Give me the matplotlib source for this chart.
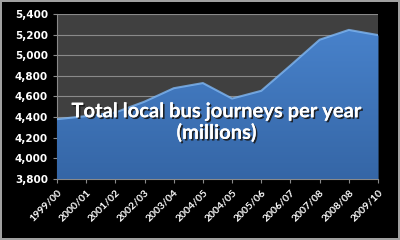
import matplotlib
matplotlib.use('Agg')
import matplotlib.pyplot as plt
import matplotlib.patheffects as pe
import numpy as np

matplotlib.rcParams['font.family'] = ['Lato', 'DejaVu Sans']

years = ['1999/00', '2000/01', '2001/02', '2002/03', '2003/04', '2004/05',
         '2004/05', '2005/06', '2006/07', '2007/08', '2008/08', '2009/10']
journeys = [4380, 4410, 4445, 4550, 4680, 4730, 4580, 4655, 4900, 5150, 5245, 5195]
y_ticks = [3800, 4000, 4200, 4400, 4600, 4800, 5000, 5200, 5400]
title = 'Total local bus journeys per year\n(millions)'

fig = plt.figure(figsize=(4, 2.4), dpi=100, facecolor='black',
                 edgecolor='#a0a0a0', linewidth=1.5)
ax = fig.add_axes([0.1425, 0.254, 0.8025, 0.688])
ax.set_facecolor('#404040')

x = np.arange(len(years))
ax.set_xlim(0, len(years) - 1)
ax.set_ylim(3800, 5400)

# area with vertical gradient, lighter toward the top
poly = ax.fill_between(x, 3800, journeys, color='#4378bd', zorder=2, lw=0)
grad = np.linspace(0, 1, 256).reshape(-1, 1)
cmap = matplotlib.colors.LinearSegmentedColormap.from_list('b', ['#3566a6', '#4a85cf'])
img = ax.imshow(grad, extent=[0, len(years) - 1, 3800, 5400], aspect='auto',
                cmap=cmap, zorder=3, origin='lower')
img.set_clip_path(poly.get_paths()[0], transform=ax.transData)
ax.plot(x, journeys, color='#7fb6f2', lw=1.5, zorder=4, alpha=0.8)

for t in y_ticks:
    ax.axhline(t, color='#8a8a8a', lw=0.8, zorder=1)

ax.set_yticks(y_ticks)
ax.set_yticklabels([f'{t:,}' for t in y_ticks], color='white',
                   fontweight='bold', fontsize=7.5, family='DejaVu Sans')
ax.set_xticks(x)
ax.set_xticklabels(years, rotation=45, ha='right', rotation_mode='anchor',
                   color='white', fontweight='bold', fontsize=7.5)
ax.tick_params(colors='#8a8a8a', length=3, width=0.8)
ax.tick_params(axis='x', labelcolor='white')
ax.tick_params(axis='y', labelcolor='white')
for s in ax.spines.values():
    s.set_color('#8a8a8a')
    s.set_linewidth(0.8)
ax.spines['top'].set_visible(False)
ax.spines['right'].set_visible(False)

ax.text(0.497, 0.345, title, transform=ax.transAxes, ha='center', va='center',
        color='white', fontsize=14.5, fontweight='bold', linespacing=1.1,
        zorder=6,
        path_effects=[pe.withSimplePatchShadow(offset=(1.2, -1.2),
                                               shadow_rgbFace='#1a1a1a', alpha=0.9),
                      pe.Normal()])

fig.savefig('out.png', dpi=100, facecolor='black', edgecolor='#a0a0a0')
